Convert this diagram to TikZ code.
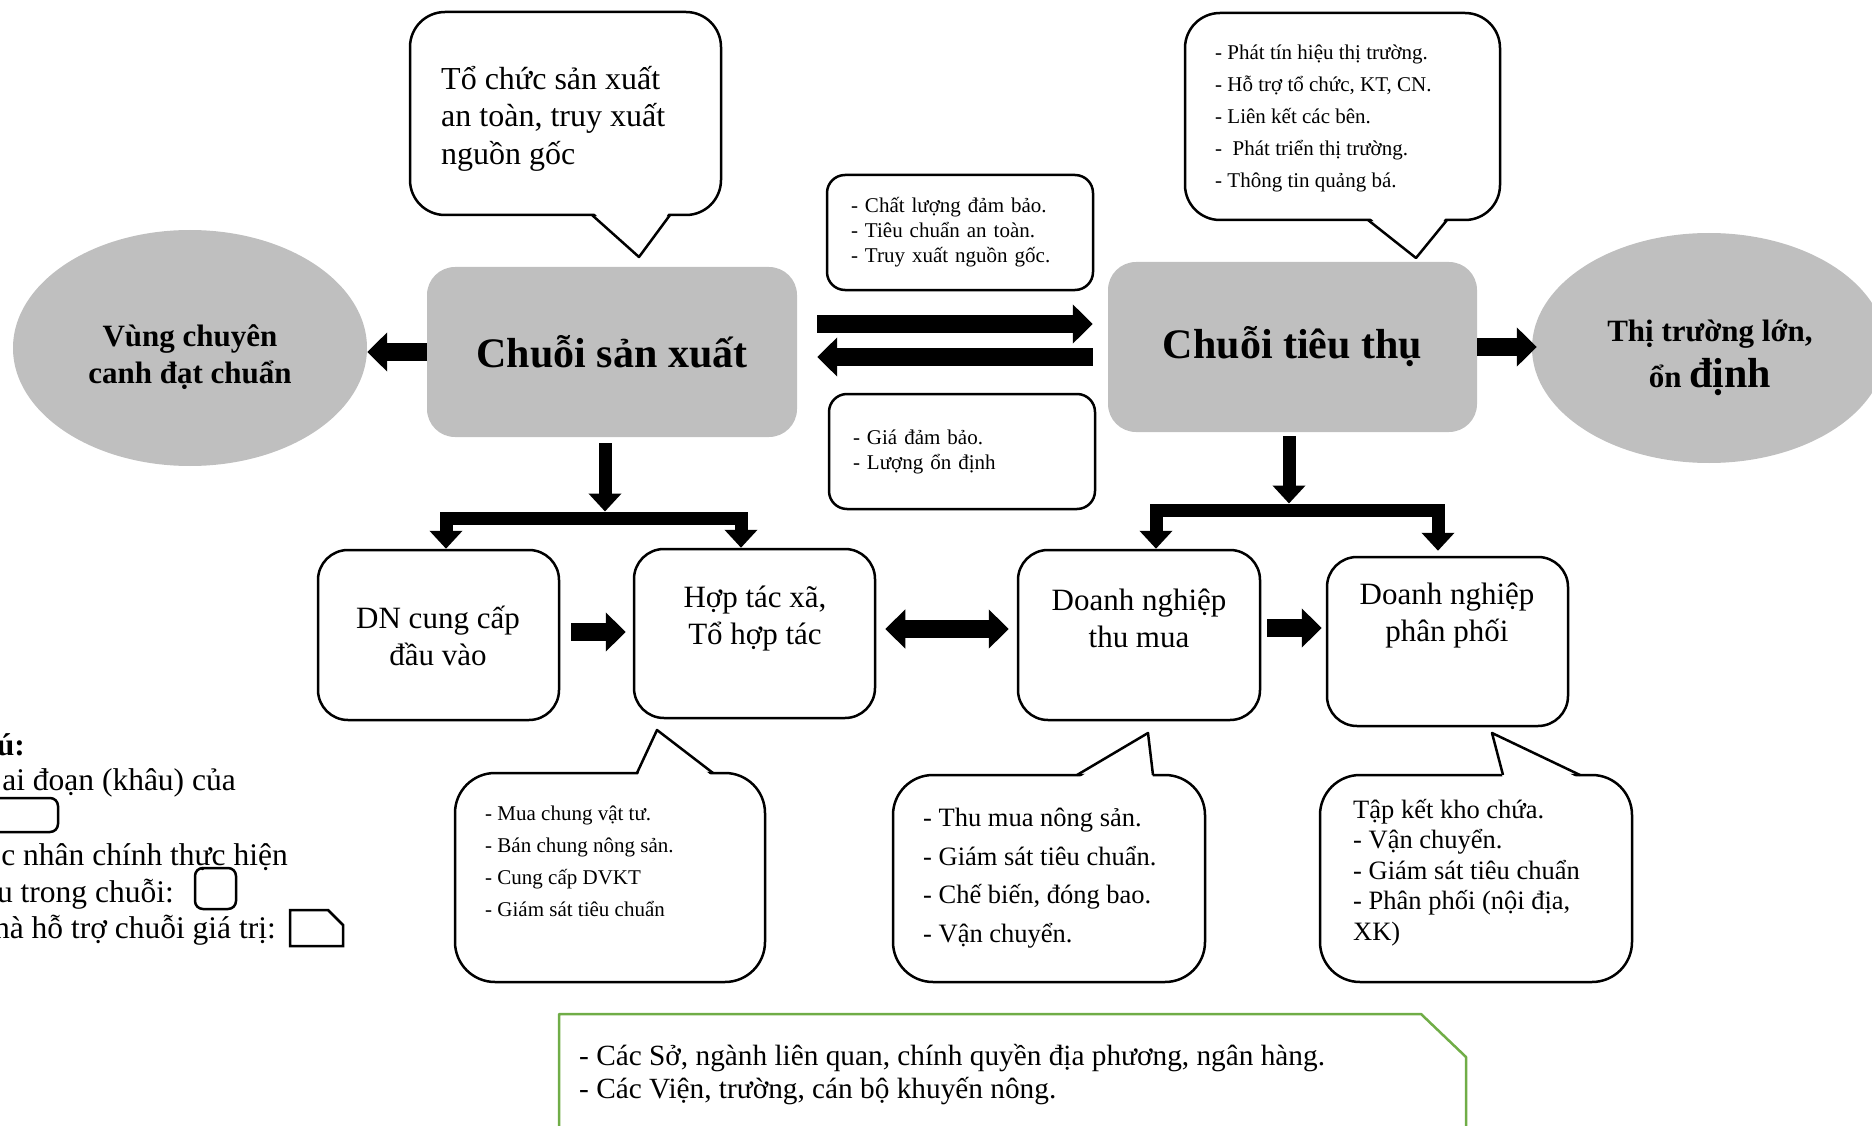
\documentclass[tikz,border=0pt]{standalone}
\usepackage{fontspec}
\setmainfont{Liberation Serif}
\usetikzlibrary{arrows.meta,shapes.geometric,calc}
\definecolor{grayc}{RGB}{191,191,191}
\definecolor{greenc}{RGB}{112,173,71}
\newcommand{\myfs}[2]{\fontsize{#1}{#2}\selectfont}
\begin{document}
\begin{tikzpicture}[x=1pt,y=-1pt,
  graybox/.style={fill=grayc, rounded corners=28pt, inner sep=0pt, font=\myfs{42}{48}\bfseries},
  grayell/.style={ellipse, fill=grayc, inner sep=0pt},
  elltxt/.style={align=center, inner sep=0pt, font=\myfs{31}{37}\bfseries},
  wbox/.style={draw, line width=2.5pt, rounded corners=30pt, inner sep=0pt},
  btxt/.style={align=center, inner sep=0pt, font=\myfs{31}{37}},
  ltxt/.style={align=left, inner sep=0pt, anchor=west},
  infobox/.style={draw, line width=2.5pt, rounded corners=18pt, align=left, text width=218pt, inner xsep=24pt, inner ysep=0pt, font=\myfs{21}{25}},
  cl/.style={line width=2.5pt, line join=round},
  blk/.style={line width=18pt, -{Triangle[width=38pt,length=20pt]}},
  dblk/.style={line width=18pt, {Triangle[width=38pt,length=20pt]}-{Triangle[width=38pt,length=20pt]}},
  brk/.style={line width=13pt, line join=miter, -{Triangle[width=32pt,length=18pt]}},
  brk2/.style={line width=13pt, line join=miter, {Triangle[width=32pt,length=18pt]}-{Triangle[width=32pt,length=18pt]}},
  legtxt/.style={anchor=base east, inner sep=0pt, font=\myfs{31.5}{37}}
]
\useasboundingbox (0,0) rectangle (1872,1126);
\clip (0,0) rectangle (1872,1126);

% main chains
\node[graybox, minimum width=370pt, minimum height=170pt] (cs) at (612,352) {Chuỗi sản xuất};
\node[graybox, minimum width=369pt, minimum height=170pt] (ct) at (1292.5,347) {Chuỗi tiêu thụ};
\node[grayell, minimum width=354pt, minimum height=236pt] (ev) at (190,348) {};
\node[elltxt] (evT) at (190,357) {Vùng chuyên\\canh đạt chuẩn};
\node[grayell, minimum width=354pt, minimum height=230pt] (et) at (1709,348) {};
\node[elltxt] (etT) at (1710,358) {Thị trường lớn,\\[9pt]ổn {\myfs{42}{37}định}};

\draw[blk] (cs.west) -- (cs.west -| ev.east);
\draw[blk] (ct.east) -- ($(ct.east -| et.west)+(5,0)$);

% info boxes between chains
\node[infobox, minimum height=115pt] (qa) at (960,232.5) {- Chất lượng đảm bảo.\\- Tiêu chuẩn an toàn.\\- Truy xuất nguồn gốc.};
\node[infobox, minimum height=115pt] (qb) at (962,451.5) {- Giá đảm bảo.\\- Lượng ổn định};
\draw[blk] ($(cs.east)+(20,-28)$) -- ($(ct.west)+(-15,-23)$);
\draw[blk] ($(ct.west)+(-15,10)$) -- ($(cs.east)+(20,5)$);

% top-left callout
\draw[cl, rounded corners=35pt] (410,12) rectangle (721,215);
\fill[white] (592,211) -- (639,257) -- (670,211) -- cycle;
\draw[cl] (592,215) -- (639,257) -- (670,215);
\node[ltxt, font=\myfs{32}{37.5}] (c1) at (441,118.5) {Tổ chức sản xuất\\an toàn, truy xuất\\nguồn gốc};

% top-right callout
\draw[cl, rounded corners=35pt] (1185,13) rectangle (1500,220);
\fill[white] (1368,216) -- (1416,258) -- (1447,216) -- cycle;
\draw[cl] (1368,220) -- (1416,258) -- (1447,220);
\node[ltxt, font=\myfs{21}{32}] (c2) at (1215,118.5) {- Phát tín hiệu thị trường.\\- Hỗ trợ tổ chức, KT, CN.\\- Liên kết các bên.\\-\ \ Phát triển thị trường.\\- Thông tin quảng bá.};

% middle row
\node[wbox, minimum width=241pt, minimum height=170pt] (dn) at (438.5,635) {};
\node[btxt] (dnT) at (438,636) {DN cung cấp\\đầu vào};
\node[wbox, minimum width=241pt, minimum height=169pt] (htx) at (754.5,633.5) {};
\node[btxt] (htxT) at (755,618.5) {Hợp tác xã,\\Tổ hợp tác};
\node[wbox, minimum width=242pt, minimum height=170pt] (dntm) at (1139,635) {};
\node[btxt] (dntmT) at (1139,618.5) {Doanh nghiệp\\thu mua};
\node[wbox, minimum width=241pt, minimum height=169pt] (dnpp) at (1447.5,641.5) {};
\node[btxt] (dnppT) at (1447,615.5) {Doanh nghiệp\\phân phối};

\draw[blk] ($(dn.east)+(11,-3)$) -- ($(htx.west |- dn.east)+(-7,-3)$);
\draw[dblk] ($(htx.east)+(9,-4.5)$) -- ($(dntm.west |- htx.east)+(-8,-4.5)$);
\draw[blk] ($(dntm.east)+(6,-7)$) -- ($(dnpp.west |- dntm.east)+(-4,-7)$);

% branches
\coordinate (lb) at (605,518);
\coordinate (lx) at (446,518);
\coordinate (rx) at (741,518);
\draw[brk] ($(cs.south -| lb)+(0,6)$) -- ($(lb)+(0,-6.5)$);
\draw[brk2] (lx |- dn.north) -- (lx) -- (rx) -- (rx |- htx.north);

\coordinate (lb2) at (1289,510);
\coordinate (lx2) at (1156,510);
\coordinate (rx2) at (1438,510);
\draw[brk] ($(ct.south -| lb2)+(0,4)$) -- ($(lb2)+(0,-6.5)$);
\draw[brk2] (lx2 |- dntm.north) -- (lx2) -- (rx2) -- ($(rx2 |- dnpp.north)+(0,-5)$);

% bottom callouts
\draw[cl, rounded corners=40pt] (455,773) rectangle (765,982);
\fill[white] (637,777) -- (657,730) -- (713,777) -- cycle;
\draw[cl] (637,773) -- (657,730) -- (713,773);
\node[ltxt, font=\myfs{21}{32}] (c3) at (485,861) {- Mua chung vật tư.\\- Bán chung nông sản.\\- Cung cấp DVKT\\- Giám sát tiêu chuẩn};

\draw[cl, rounded corners=40pt] (893,775) rectangle (1205,982);
\fill[white] (1077,779) -- (1148,733) -- (1153,779) -- cycle;
\draw[cl] (1077,775) -- (1148,733) -- (1153,775);
\node[ltxt, font=\myfs{26.5}{38.7}] (c4) at (923,878) {- Thu mua nông sản.\\- Giám sát tiêu chuẩn.\\- Chế biến, đóng bao.\\- Vận chuyển.};

\draw[cl, rounded corners=40pt] (1320,775) rectangle (1632,982);
\fill[white] (1503,779) -- (1492,733) -- (1580,779) -- cycle;
\draw[cl] (1503,775) -- (1492,733) -- (1580,775);
\node[ltxt, font=\myfs{26.5}{30.5}] (c5) at (1353,872.5) {Tập kết kho chứa.\\- Vận chuyển.\\- Giám sát tiêu chuẩn\\- Phân phối (nội địa,\\XK)};

% bottom green box
\draw[greenc, line width=2.5pt, line join=round] (559,1140) -- (559,1014) -- (1421,1014) -- (1466,1057) -- (1466,1140);
\node[ltxt, font=\myfs{29.3}{33.5}] (c6) at (579,1074.5) {- Các Sở, ngành liên quan, chính quyền địa phương, ngân hàng.\\- Các Viện, trường, cán bộ khuyến nông.};

% legend
\node[legtxt, font=\myfs{31.5}{37}\bfseries] (lg0) at (25,755) {ú:};
\node[legtxt] (lg1) at (236,790) {ai đoạn (khâu) của};
\draw[line width=2.5pt, rounded corners=8pt] (-40,798) rectangle (58,832);
\node[legtxt] (lg2) at (288,865) {c nhân chính thực hiện};
\node[legtxt] (lg3) at (174,902) {u trong chuỗi:};
\draw[line width=2.5pt, rounded corners=8pt] (195,868) rectangle (236,909);
\node[legtxt] (lg4) at (276,938) {hà hỗ trợ chuỗi giá trị:};
\draw[line width=2.5pt, line join=miter] (290,910) -- (328,910) -- (343,925) -- (343,946) -- (290,946) -- cycle;
\end{tikzpicture}
\end{document}
